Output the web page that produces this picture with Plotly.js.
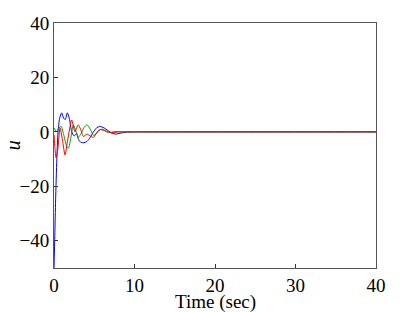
<!DOCTYPE html>
<html>
<head>
<meta charset="utf-8">
<script src="https://cdn.plot.ly/plotly-3.0.1.min.js"></script>
<style>html,body{margin:0;padding:0;background:#fff;}#chart{width:415px;height:312px;}</style>
</head>
<body>
<div id="chart"></div>
<script>
var blueT = [0, 0.1, 0.2, 0.35, 0.5, 0.7, 0.95, 1.2, 1.4, 1.65, 1.9, 2.2, 2.5, 2.8, 3.0, 3.3, 3.7, 4.1, 4.5, 4.9, 5.3, 5.7, 6.2, 6.7, 7.2, 7.7, 8.2, 9, 10, 20, 30, 40];
var blueU = [-50, -38, -25, -10, 0, 5, 7, 5, 4.5, 7, 5, 0, -1.5, -0.5, -2.5, -3.8, -4, -3.5, -2, 0, 1.5, 2, 1.5, 0.5, -0.5, -0.8, -0.5, -0.1, 0, 0, 0, 0];
var greenT = [0, 0.3, 0.6, 0.9, 1.2, 1.6, 1.8, 2.1, 2.4, 2.7, 3.0, 3.4, 3.7, 4.1, 4.5, 4.9, 5.3, 5.7, 6.2, 6.8, 7.5, 8.5, 10, 20, 30, 40];
var greenU = [1.5, 0, 1.5, 2, -1, -5.5, -6, -2, 2.6, 0.5, -2, -0.5, 1.5, 2.6, 1, -1.3, -0.5, 0.8, 0.5, -0.3, 0.1, 0, 0, 0, 0, 0];
var redT = [0, 0.12, 0.25, 0.45, 0.75, 1.05, 1.37, 1.7, 2.2, 2.6, 3.0, 3.3, 3.65, 4.1, 4.5, 4.9, 5.5, 6.0, 6.5, 7.2, 8, 9, 10, 20, 30, 40];
var redU = [-1, -6, -9.5, -7, 1.5, -3, -8.5, -3, 4.4, 0, 2.6, 1, -1.7, -0.8, -1.5, -2, 0.5, 1, 0.3, -0.3, 0, 0, 0, 0, 0, 0];

var xTicks = [0, 10, 20, 30, 40];
var yTicks = [-40, -20, 0, 20, 40];
var xTitle = 'Time (sec)';
var yTitle = '<i>u</i>';

function tr(x, y, c) {
  return {x: x, y: y, type: 'scatter', mode: 'lines',
    line: {color: c, width: 1, shape: 'spline', smoothing: 0.6},
    hoverinfo: 'none', showlegend: false};
}
var data = [tr(blueT, blueU, '#0000ff'), tr(greenT, greenU, '#00a000'), tr(redT, redU, '#ff0000')];

function f(s) { return {family: 'Liberation Serif', size: s || 19, color: '#000'}; }
var layout = {
  width: 415, height: 312,
  margin: {l: 54, r: 39, t: 23, b: 44, pad: 0},
  paper_bgcolor: '#fff', plot_bgcolor: '#fff',
  font: f(),
  showlegend: false,
  xaxis: {
    range: [0, 40], tickvals: xTicks, ticktext: xTicks.map(String),
    ticks: 'inside', ticklen: 4, tickcolor: '#333', tickwidth: 1,
    showline: true, linecolor: '#555', linewidth: 1, mirror: true,
    showgrid: false, zeroline: false,
    tickfont: f()
  },
  yaxis: {
    range: [-50, 40], tickvals: yTicks, ticktext: yTicks.map(function(v){return v < 0 ? '\u2212' + Math.abs(v) : String(v);}),
    ticks: 'inside', ticklen: 4, tickcolor: '#333', tickwidth: 1,
    showline: true, linecolor: '#555', linewidth: 1, mirror: true,
    showgrid: false, zeroline: false,
    tickfont: f()
  },
  annotations: [
    {text: xTitle, xref: 'paper', yref: 'paper', x: 0.5, y: -0.14, xanchor: 'center', yanchor: 'middle', showarrow: false, font: f(19)},
    {text: yTitle, xref: 'paper', yref: 'paper', x: -0.128, y: 0.5, xanchor: 'center', yanchor: 'middle', textangle: -90, showarrow: false, font: f(20)}
  ]
};
Plotly.newPlot('chart', data, layout, {staticPlot: true, displayModeBar: false});
</script>
</body>
</html>
